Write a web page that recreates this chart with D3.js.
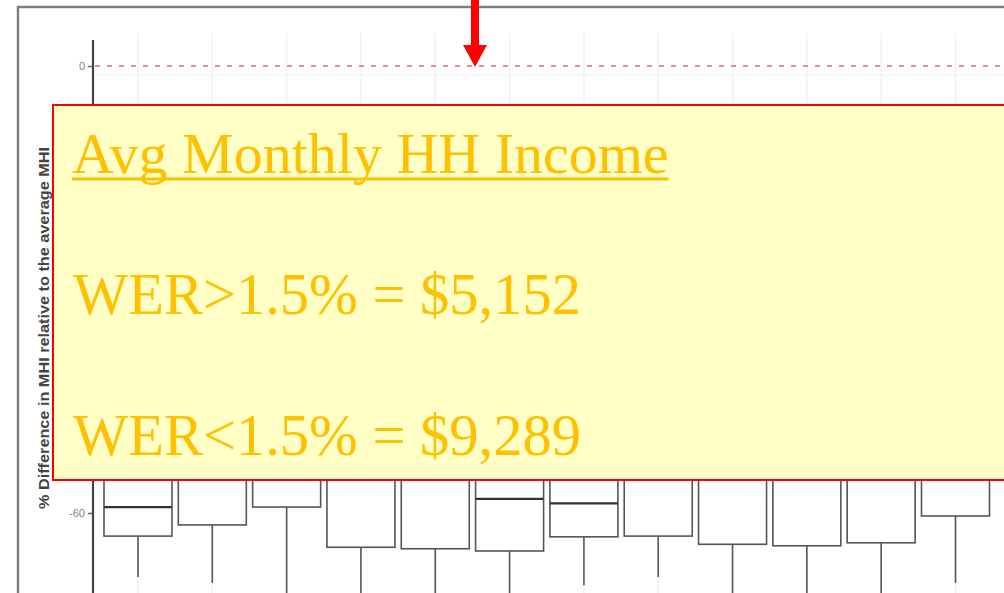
<!DOCTYPE html>
<html>
<head>
<meta charset="utf-8">
<script src="https://cdn.jsdelivr.net/npm/d3@7"></script>
<style>
  html, body { margin: 0; padding: 0; background: #ffffff; overflow: hidden; }
  svg { display: block; }
</style>
</head>
<body>
<svg id="chart" width="1004" height="593"></svg>
<script>
// ---- data (parts under the yellow panel are hidden) ----
const categories = ["G1","G2","G3","G4","G5","G6","G7","G8","G9","G10","G11","G12"];
const medians    = [-59.2, null, null, null, null, -58.1, -58.7, null, null, null, null, null];
const q1Values   = [-63.1, -61.6, -59.2, -64.6, -64.8, -65.1, -63.2, -63.1, -64.2, -64.4, -64.0, -60.4];
const q3Values   = [-40, -42, -38, -44, -45, -43, -42, -41, -44, -45, -43, -40];
const whiskerLow = [-68.6, -69.4, -76, -76, -76, -76, -69.7, -68.6, -76, -76, -76, -69.4];
const whiskerHigh= [-20, -22, -18, -24, -25, -23, -22, -21, -24, -25, -23, -20];
const yTicks     = [0, -20, -40, -60];
const refLine    = [0];
const yLabel     = "% Difference in MHI relative to the average MHI";
const panelTitle = "Avg Monthly HH Income";
const panelLines = ["WER>1.5% = $5,152", "WER<1.5% = $9,289"];

const svg = d3.select("#chart");
const W = 1004, H = 593;

const x = d3.scalePoint().domain(categories).range([138, 955.5]);
const boxW = 68;
const y = d3.scaleLinear().domain([0, -60]).range([66, 513]);

const data = categories.map((c, i) => ({
  c, med: medians[i], q1: q1Values[i], q3: q3Values[i], lo: whiskerLow[i], hi: whiskerHigh[i]
}));

// outer frame
svg.append("rect")
  .attr("x", 18).attr("y", 7).attr("width", W + 40).attr("height", H + 40)
  .attr("fill", "#fff").attr("stroke", "#7f7f7f").attr("stroke-width", 2.5);

// faint vertical grid at categories
svg.append("g").selectAll("line").data(categories).join("line")
  .attr("x1", d => x(d)).attr("x2", d => x(d))
  .attr("y1", 33).attr("y2", H)
  .attr("stroke", "#f0f0f0").attr("stroke-width", 1.5);

// faint horizontal line just below the reference
svg.append("line")
  .attr("x1", 95).attr("x2", W).attr("y1", y(-1.2)).attr("y2", y(-1.2))
  .attr("stroke", "#f0f5f0").attr("stroke-width", 1.5);

// reference dashed line at 0
svg.append("g").selectAll("line").data(refLine).join("line")
  .attr("x1", 95).attr("x2", W)
  .attr("y1", d => y(d)).attr("y2", d => y(d))
  .attr("stroke", "#e3909e").attr("stroke-width", 2)
  .attr("stroke-dasharray", "5,7");

// boxes
const g = svg.append("g");
g.selectAll("line.whisk").data(data).join("line").attr("class", "whisk")
  .attr("x1", d => x(d.c)).attr("x2", d => x(d.c))
  .attr("y1", d => y(d.hi)).attr("y2", d => y(d.lo))
  .attr("stroke", "#555").attr("stroke-width", 1.6);
g.selectAll("rect.box").data(data).join("rect").attr("class", "box")
  .attr("x", d => x(d.c) - boxW / 2).attr("width", boxW)
  .attr("y", d => y(d.q3)).attr("height", d => y(d.q1) - y(d.q3))
  .attr("fill", "#fff").attr("stroke", "#555").attr("stroke-width", 1.6);
g.selectAll("line.med").data(data.filter(d => d.med !== null)).join("line").attr("class", "med")
  .attr("x1", d => x(d.c) - boxW / 2).attr("x2", d => x(d.c) + boxW / 2)
  .attr("y1", d => y(d.med)).attr("y2", d => y(d.med))
  .attr("stroke", "#333").attr("stroke-width", 2.2);

// y axis
const axis = d3.axisLeft(y).tickValues(yTicks).tickSize(5).tickPadding(3).tickSizeOuter(0)
  .tickFormat(d => String(d));
const ax = svg.append("g").attr("transform", "translate(93,0)").call(axis);
ax.select(".domain").remove();
ax.selectAll(".tick line").attr("stroke", "#666").attr("stroke-width", 1.5);
ax.selectAll(".tick text").attr("fill", "#808080").style("font-family", "Liberation Sans, Arial, sans-serif").style("font-size", "11px");
svg.append("line")
  .attr("x1", 93).attr("x2", 93).attr("y1", y(3.5)).attr("y2", H)
  .attr("stroke", "#444").attr("stroke-width", 2.2);

// y label
svg.append("text")
  .attr("transform", "translate(49,328) rotate(-90)")
  .attr("text-anchor", "middle")
  .style("font-family", "Liberation Sans, Arial, sans-serif")
  .style("font-weight", "bold").style("font-size", "15px")
  .attr("textLength", 362).attr("lengthAdjust", "spacingAndGlyphs")
  .attr("fill", "#444")
  .text(yLabel);

// red arrow annotation
svg.append("rect").attr("x", 471).attr("y", -2).attr("width", 8).attr("height", 48).attr("fill", "#ff0000");
svg.append("path").attr("d", "M463,45 L487,45 L475,67 Z").attr("fill", "#ff0000");

// yellow panel
svg.append("rect")
  .attr("x", 53).attr("y", 105).attr("width", W).attr("height", 375)
  .attr("fill", "#ffffc6").attr("stroke", "#ff0000").attr("stroke-width", 2);

const font = "Liberation Serif, 'Times New Roman', serif";
const t1 = svg.append("text")
  .attr("x", 72).attr("y", 173)
  .style("font-family", font).style("font-size", "58px")
  .attr("fill", "#ffc000")
  .text(panelTitle);
const tl = t1.node().getComputedTextLength();
svg.append("rect").attr("x", 72).attr("y", 177.5).attr("width", tl).attr("height", 3).attr("fill", "#ffc000");

svg.append("g").selectAll("text").data(panelLines).join("text")
  .attr("x", 73).attr("y", (d, i) => 314 + i * 141)
  .style("font-family", font).style("font-size", "58.5px")
  .attr("fill", "#ffc000")
  .text(d => d);
</script>
</body>
</html>
